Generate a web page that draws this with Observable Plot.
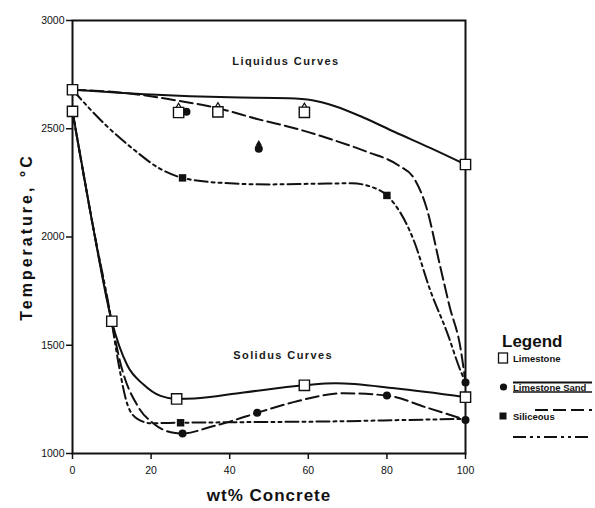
<!DOCTYPE html>
<html>
<head>
<meta charset="utf-8">
<script src="https://cdn.jsdelivr.net/npm/d3@7"></script>
<script src="https://cdn.jsdelivr.net/npm/@observablehq/plot@0.6"></script>
<style>
  html, body { margin: 0; padding: 0; background: #fff; }
  #wrap { position: relative; width: 595px; height: 508px; }
  #chart svg { display: block; }
  #chart svg [aria-label="y-axis label"] text { font-size: 16px; font-weight: bold; letter-spacing: 3px; }
  #chart svg [aria-label="x-axis label"] text { font-size: 17px; font-weight: bold; letter-spacing: 1px; }
  #legend { position: absolute; left: 0; top: 0; pointer-events: none; }
</style>
</head>
<body>
<div id="wrap">
  <div id="chart"></div>
  <svg id="legend" width="595" height="508"></svg>
</div>
<script>
// ---- tick labels ----
const xTicks = [0, 20, 40, 60, 80, 100];
const yTicks = [1000, 1500, 2000, 2500, 3000];

// ---- liquidus curves (wt% concrete, temperature °C) ----
const liqLimestone = [[0,2680],[20,2658],[40,2645],[55,2641],[61,2632],[67,2603],[74,2552],[82,2485],[91,2412],[100,2335]];
const liqLimestoneSand = [[0,2680],[15,2662],[25,2635],[37,2595],[47,2545],[58,2495],[66,2450],[75,2393],[83,2330],[87,2268],[90,2140],[93.6,1861],[96,1676],[98.7,1490],[100,1328]];
const liqSiliceous = [[0,2680],[8,2525],[16,2398],[22,2318],[28,2273],[38,2250],[50,2243],[62,2246],[71,2248],[76.6,2228],[80,2192],[86.8,1986],[91,1755],[95.4,1555],[98.7,1384],[100,1330]];

// ---- solidus curves ----
const solLimestone = [[0,2580],[5,2070],[10,1611],[14,1405],[18,1320],[22.4,1266],[26.5,1252],[31,1254],[43.5,1282],[59,1315],[67,1324],[82,1301],[100,1260]];
const solLimestoneSand = [[0,2580],[5,2070],[10,1605],[12.2,1417],[16.8,1213],[20.6,1139],[25,1098],[28,1092],[35,1122],[41,1153],[47,1188],[56,1236],[69,1278],[80,1268],[90,1213],[100,1155]];
const solSiliceous = [[0,2580],[5,2070],[10,1605],[11.7,1417],[14,1225],[16.5,1160],[20,1140],[27.5,1142],[45,1145],[65,1148],[85,1155],[100,1160]];

// ---- measured points ----
const ptsLimestone = [[0,2680],[0,2580],[10,1611],[26.5,1252],[59,1315],[100,1260],[100,2335],[27,2575],[37,2578],[59,2576]];
const ptsLimestoneArrow = [[27,2575],[37,2578],[59,2576]];
const ptsLimestoneSand = [[29,2578],[47.4,2408],[28,1092],[47,1188],[80,1268],[100,1155],[100,1328]];
const ptsLimestoneSandArrow = [[47.4,2408]];
const ptsSiliceous = [[28,2273],[80,2192],[27.5,1142]];

// ---- annotations ----
const notes = [
  {x: 54.3, y: 2812, text: "Liquidus Curves"},
  {x: 53.6, y: 1455, text: "Solidus Curves"}
];

const X = d => d[0], Y = d => d[1];
const INK = "#111";
const dashLong = "13,5";
const dashDotDot = "13,4,3,4,3,4";

const lineOpts = (dash) => ({x: X, y: Y, curve: "monotone-x", stroke: INK, strokeWidth: 2, strokeDasharray: dash});

const chart = Plot.plot({
  width: 595,
  height: 508,
  marginLeft: 72,
  marginRight: 130,
  marginTop: 20,
  marginBottom: 55,
  style: {fontFamily: "'Liberation Sans', Arial, sans-serif", fontSize: "10.5px", color: INK, background: "white"},
  x: {domain: [0, 100]},
  y: {domain: [1000, 3000]},
  marks: [
    Plot.axisX({ticks: xTicks, tickFormat: d3.format("d"), tickSize: 6, tickPadding: 7, strokeWidth: 1.5, label: "wt% Concrete", labelAnchor: "center", labelOffset: 47, labelArrow: "none"}),
    Plot.axisY({ticks: yTicks, tickFormat: d3.format("d"), tickSize: 6, tickPadding: 2, strokeWidth: 1.5, label: "Temperature, °C", labelAnchor: "center", labelOffset: 52, labelArrow: "none"}),
    Plot.line(liqLimestone, lineOpts(null)),
    Plot.line(liqLimestoneSand, lineOpts(dashLong)),
    Plot.line(liqSiliceous, lineOpts(dashDotDot)),
    Plot.line(solLimestone, lineOpts(null)),
    Plot.line(solLimestoneSand, lineOpts(dashLong)),
    Plot.line(solSiliceous, lineOpts(dashDotDot)),
    Plot.frame({stroke: INK, strokeWidth: 2}),
    Plot.dot(ptsLimestoneSand, {x: X, y: Y, r: 4, fill: INK, stroke: "none"}),
    Plot.dot(ptsLimestoneSandArrow, {x: X, y: Y, symbol: "triangle", r: 2.4, fill: INK, stroke: "none", dy: -5}),
    Plot.dot(ptsSiliceous, {x: X, y: Y, symbol: "square", r: 4.2, fill: INK, stroke: "none"}),
    Plot.dot(ptsLimestoneArrow, {x: X, y: Y, symbol: "triangle", r: 2.2, fill: "white", stroke: INK, strokeWidth: 1.2, dy: -5.8}),
    Plot.dot(ptsLimestone, {x: X, y: Y, symbol: "square", r: 5.8, fill: "white", stroke: INK, strokeWidth: 1.4}),
    Plot.text(notes, {x: "x", y: "y", text: "text", fontSize: 11, fontWeight: "bold", fill: "#1a1a1a"})
  ]
});
document.getElementById("chart").appendChild(chart);
// letter spacing for annotation text
d3.select(chart).selectAll('[aria-label="text"] text').style("letter-spacing", "1.4px");

// ---- legend (overlay at the right of the plot) ----
const legendItems = [
  {name: "Limestone", marker: "hollowSquare"},
  {name: "Limestone Sand", marker: "circle"},
  {name: "Siliceous", marker: "square"}
];
const lg = d3.select("#legend");
lg.append("text").attr("x", 502).attr("y", 347).text("Legend")
  .attr("font-family", "'Liberation Sans', Arial, sans-serif").attr("font-size", 17).attr("font-weight", "bold").attr("fill", INK);
const rowsY = [358, 387, 416];
legendItems.forEach((d, i) => {
  const cy = rowsY[i];
  if (d.marker === "hollowSquare") {
    lg.append("rect").attr("x", 498.5).attr("y", cy - 5).attr("width", 9).attr("height", 10).attr("fill", "white").attr("stroke", INK).attr("stroke-width", 1.3);
  } else if (d.marker === "circle") {
    lg.append("circle").attr("cx", 503.5).attr("cy", cy).attr("r", 3.6).attr("fill", INK);
  } else {
    lg.append("rect").attr("x", 499.5).attr("y", cy - 3.5).attr("width", 7).attr("height", 7).attr("fill", INK);
  }
  lg.append("text").attr("x", 513).attr("y", cy + 3.5).text(d.name)
    .attr("font-family", "'Liberation Sans Narrow', 'Liberation Sans', Arial, sans-serif")
    .attr("font-size", 9.5).attr("font-weight", "bold").attr("fill", INK);
});
// line-style samples
const sampleY = [382.5, 410, 437];
const sampleX0 = [513, 535, 513];
[null, dashLong, dashDotDot].forEach((dash, i) => {
  lg.append("line").attr("x1", sampleX0[i]).attr("x2", 592).attr("y1", sampleY[i]).attr("y2", sampleY[i])
    .attr("stroke", INK).attr("stroke-width", 2).attr("stroke-dasharray", dash);
});
lg.append("line").attr("x1", 513).attr("x2", 592).attr("y1", 392).attr("y2", 392).attr("stroke", INK).attr("stroke-width", 1.5);
</script>
</body>
</html>
